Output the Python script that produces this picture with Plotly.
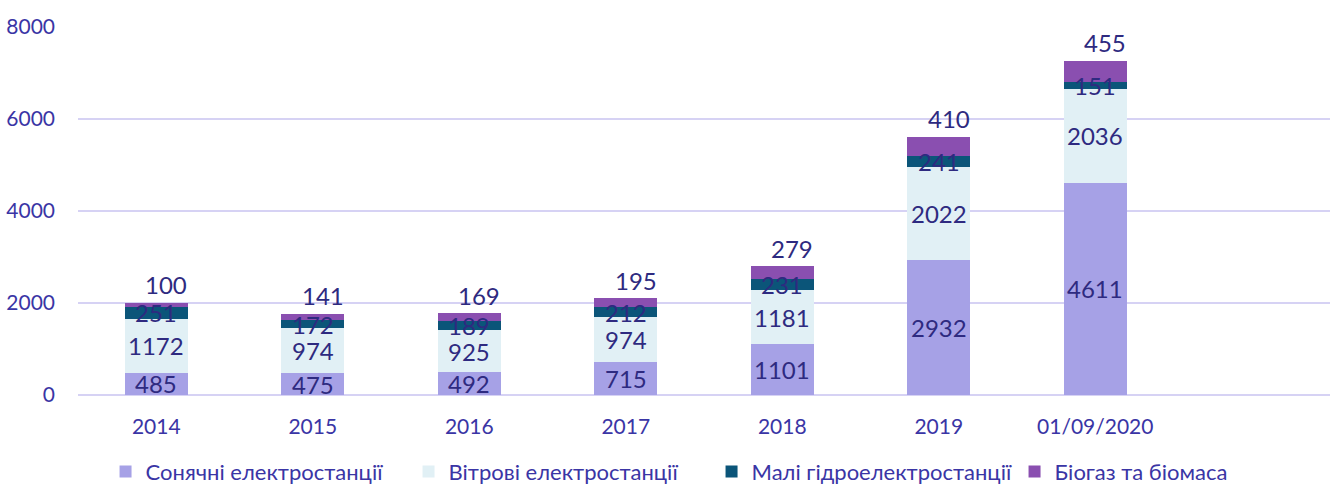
import plotly.graph_objects as go

categories = ["2014", "2015", "2016", "2017", "2018", "2019", "01/09/2020"]
solar = [485, 475, 492, 715, 1101, 2932, 4611]
wind = [1172, 974, 925, 974, 1181, 2022, 2036]
hydro = [251, 172, 189, 212, 231, 241, 151]
biogas = [100, 141, 169, 195, 279, 410, 455]

names = ["Сонячні електростанції", "Вітрові електростанції",
         "Малі гідроелектростанції", "Біогаз та біомаса"]
colors = ["#A6A1E6", "#E1F0F5", "#0B5579", "#8A4FB0"]

LABEL_COLOR = "#2E2A80"
TICK_COLOR = "#3A35A5"
FONT = "Lato"

idx = list(range(len(categories)))
series = [solar, wind, hydro, biogas]

fig = go.Figure()
for vals, name, col in zip(series, names, colors):
    fig.add_trace(go.Bar(
        x=idx, y=vals, name=name,
        marker=dict(color=col, line=dict(width=0)),
        hoverinfo="skip",
    ))

label_font = dict(family=FONT, size=24, color=LABEL_COLOR)
for i in idx:
    base = 0
    for k, vals in enumerate(series):
        v = vals[i]
        if k < 3:
            fig.add_annotation(x=i, y=base + v / 2, text=str(v), showarrow=False,
                               yanchor="middle", font=label_font)
        else:
            fig.add_annotation(x=i, y=base + v, text=str(v), showarrow=False,
                               xshift=10, yshift=18, yanchor="middle", font=label_font)
        base += v

fig.update_layout(
    width=1332, height=489,
    margin=dict(l=78, r=2, t=26, b=94, autoexpand=False),
    barmode="stack", bargap=0.6,
    plot_bgcolor="white", paper_bgcolor="white",
    font=dict(family=FONT, color=TICK_COLOR),
    legend=dict(
        orientation="h", x=0.022, xanchor="left", y=-0.208, yanchor="middle",
        font=dict(family=FONT, size=22, color=TICK_COLOR),
        entrywidth=258, entrywidthmode="pixels",
        traceorder="normal",
    ),
    xaxis=dict(
        range=[-0.5, 7.5], tickvals=idx, ticktext=categories,
        showgrid=False, showline=False, zeroline=False,
        tickfont=dict(family=FONT, size=21, color=TICK_COLOR),
        ticks="", ticklabelstandoff=17,
    ),
    yaxis=dict(
        range=[0, 8010], tickvals=[0, 2000, 4000, 6000, 8000],
        showgrid=True, gridcolor="#D6D2F4", gridwidth=2,
        zeroline=True, zerolinecolor="#D6D2F4", zerolinewidth=2,
        showline=False,
        tickfont=dict(family=FONT, size=21, color=TICK_COLOR),
        ticks="", ticklabelstandoff=22,
    ),
)

fig.write_html("out.html")
